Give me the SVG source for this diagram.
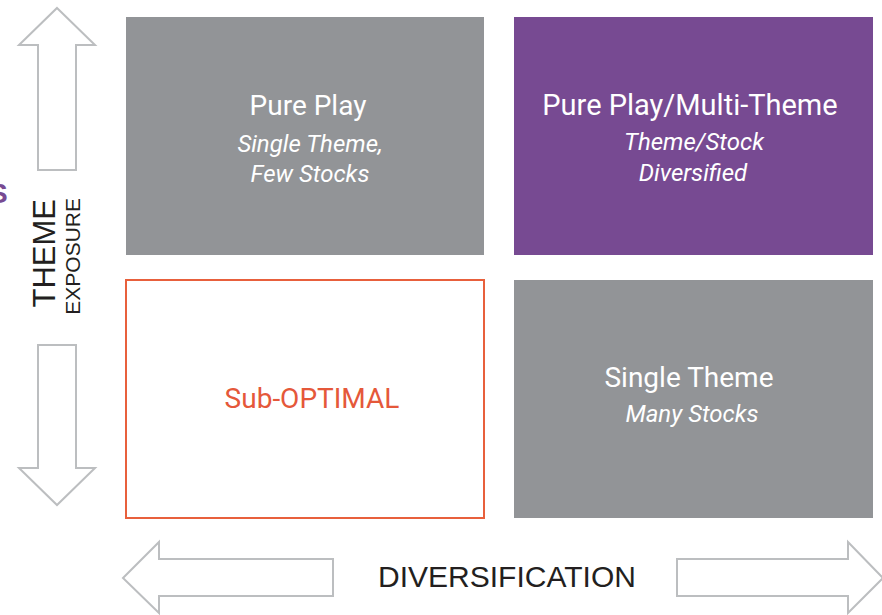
<svg xmlns="http://www.w3.org/2000/svg" width="882" height="615" viewBox="0 0 882 615">
  <style>
    .arrow { fill: #ffffff; stroke: #bcbec0; stroke-width: 2; stroke-linejoin: miter; }
    .box-gray { fill: #929497; }
    .box-purple { fill: #774a92; }
    .box-outline { fill: #ffffff; stroke: #e8603c; stroke-width: 2; }
    .title { font-family: Roboto, "Liberation Sans", sans-serif; font-size: 28px; fill: #ffffff; text-anchor: middle; }
    .sub { font-family: Roboto, "Liberation Sans", sans-serif; font-size: 24px; font-style: italic; fill: #ffffff; text-anchor: middle; }
    .axis { font-family: "Liberation Sans", Arial, sans-serif; fill: #231f20; }
  </style>
  <rect width="882" height="615" fill="#ffffff"/>

  <!-- partial letter at left edge, cropped as in the source -->
  <text x="-11" y="203" font-family="Liberation Sans, Arial, sans-serif" font-size="28" font-weight="bold" fill="#774a92">S</text>

  <g id="connectors">
    <polygon id="arrow-up" class="arrow" points="57,8 95,45 76,45 76,170 38,170 38,45 19,45"/>
    <polygon id="arrow-down" class="arrow" points="38,345 76,345 76,468 95,468 57,505 19,468 38,468"/>
    <polygon id="arrow-left" class="arrow" points="123,578 159,542 159,559 333,559 333,596 159,596 159,613"/>
    <polygon id="arrow-right" class="arrow" points="677,559 848,559 848,542 883,578 848,613 848,596 677,596"/>
  </g>

  <g id="axis-y">
    <text class="axis" font-size="31" text-anchor="end" transform="translate(55,199) rotate(-90)">THEME</text>
    <text class="axis" font-size="21" text-anchor="end" transform="translate(80,198) rotate(-90)">EXPOSURE</text>
  </g>
  <g id="axis-x">
    <text class="axis" font-size="30" text-anchor="middle" x="507" y="587">DIVERSIFICATION</text>
  </g>

  <g id="pure-play">
    <rect class="box-gray" x="126" y="17" width="358" height="238"/>
    <text class="title" x="308" y="115">Pure Play</text>
    <text class="sub" x="310" y="152">Single Theme,</text>
    <text class="sub" x="310" y="182">Few Stocks</text>
  </g>

  <g id="pure-play-multi">
    <rect class="box-purple" x="514" y="17" width="359" height="238"/>
    <text class="title" x="690" y="115" style="font-size:29px">Pure Play/Multi-Theme</text>
    <text class="sub" x="694" y="150">Theme/Stock</text>
    <text class="sub" x="693" y="181">Diversified</text>
  </g>

  <g id="sub-optimal">
    <rect class="box-outline" x="126" y="280" width="358" height="238"/>
    <text class="title" x="312" y="408" style="fill:#e5583a">Sub-OPTIMAL</text>
  </g>

  <g id="single-theme">
    <rect class="box-gray" x="514" y="280" width="359" height="238"/>
    <text class="title" x="689" y="387">Single Theme</text>
    <text class="sub" x="692" y="422">Many Stocks</text>
  </g>
</svg>
